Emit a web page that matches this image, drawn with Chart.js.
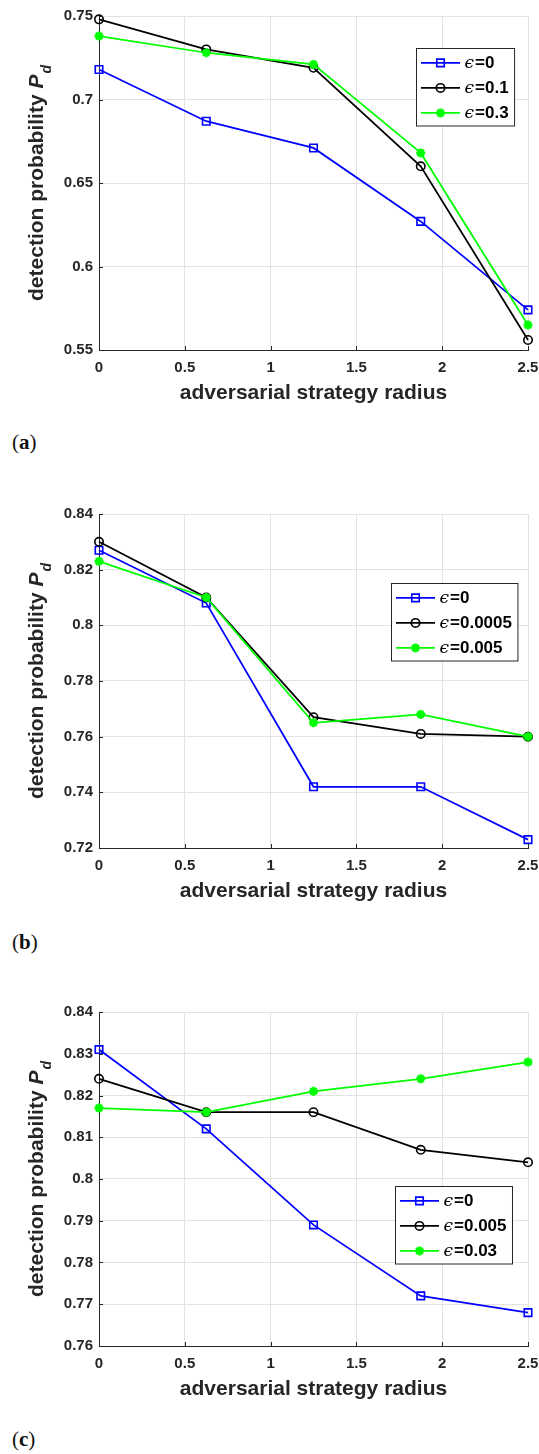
<!DOCTYPE html>
<html>
<head>
<meta charset="utf-8">
<title>Detection probability vs adversarial strategy radius</title>
<script src="https://cdn.jsdelivr.net/npm/chart.js@4.4.1/dist/chart.umd.min.js"></script>
<style>
  html, body { margin: 0; padding: 0; background: #ffffff; }
  body { width: 539px; height: 1454px; position: relative; overflow: hidden; }
  .panel { position: absolute; left: 0; width: 539px; }
  .panel canvas { display: block; }
  .tag { position: absolute; left: 12px; font-family: "Liberation Serif", "DejaVu Serif", serif;
         font-size: 21px; line-height: 1; color: #111111; }
  .tag b { font-weight: bold; }
</style>
</head>
<body>
<div class="panel" style="top:0px;height:410px"><canvas id="panelA" width="539" height="410"></canvas></div>
<div class="tag" style="top:432px">(<b>a</b>)</div>
<div class="panel" style="top:498px;height:410px"><canvas id="panelB" width="539" height="410"></canvas></div>
<div class="tag" style="top:932px">(<b>b</b>)</div>
<div class="panel" style="top:996px;height:410px"><canvas id="panelC" width="539" height="410"></canvas></div>
<div class="tag" style="top:1429px">(<b>c</b>)</div>

<script>
// ---- data ----
const radius = [0, 0.625, 1.25, 1.875, 2.5];
const xTicks = [0, 0.5, 1, 1.5, 2, 2.5];

// (a)
const aEpsilon = ['0', '0.1', '0.3'];
const aPdEps0   = [0.718, 0.687, 0.671, 0.627, 0.574];
const aPdEps01  = [0.748, 0.730, 0.719, 0.660, 0.556];
const aPdEps03  = [0.738, 0.728, 0.721, 0.668, 0.565];
const aYTicks   = [0.55, 0.6, 0.65, 0.7, 0.75];

// (b)
const bEpsilon    = ['0', '0.0005', '0.005'];
const bPdEps0     = [0.827, 0.808, 0.742, 0.742, 0.723];
const bPdEps00005 = [0.830, 0.810, 0.767, 0.761, 0.760];
const bPdEps0005  = [0.823, 0.810, 0.765, 0.768, 0.760];
const bYTicks     = [0.72, 0.74, 0.76, 0.78, 0.8, 0.82, 0.84];

// (c)
const cEpsilon   = ['0', '0.005', '0.03'];
const cPdEps0    = [0.831, 0.812, 0.789, 0.772, 0.768];
const cPdEps0005 = [0.824, 0.816, 0.816, 0.807, 0.804];
const cPdEps003  = [0.817, 0.816, 0.821, 0.824, 0.828];
const cYTicks    = [0.76, 0.77, 0.78, 0.79, 0.8, 0.81, 0.82, 0.83, 0.84];

const xTitle = 'adversarial strategy radius';
const yTitle = 'detection probability ';
const yTitleSymbol = 'P';
const yTitleSub = 'd';

// ---- styling ----
const SANS = '"Liberation Sans", Arial, Helvetica, sans-serif';
const INK = '#262626';
const GRID = '#e2e2e2';

const seriesStyle = [
  { color: '#0000ff', pointStyle: 'rect',   radius: 5.3, markerWidth: 1.6 },
  { color: '#000000', pointStyle: 'circle', radius: 4.2, markerWidth: 1.6 },
  { color: '#00ff00', pointStyle: 'star',   radius: 4.5, markerWidth: 2.6 }
];
const LINE_WIDTH = 1.75;

function fmt(v) { return String(Number(Number(v).toFixed(4))); }

// rotated y-axis title with italic P and subscript d
const yTitlePlugin = {
  id: 'yTitleRich',
  afterDraw(chart) {
    const { ctx, chartArea } = chart;
    const mainFont = 'bold 21px ' + SANS;
    const symFont = 'italic bold 21px ' + SANS;
    const subFont = 'italic bold 14px ' + SANS;
    ctx.save();
    ctx.font = mainFont; const w1 = ctx.measureText(yTitle).width;
    ctx.font = symFont;  const w2 = ctx.measureText(yTitleSymbol).width;
    ctx.font = subFont;  const w3 = ctx.measureText(yTitleSub).width;
    const total = w1 + w2 + w3 + 1;
    const cy = (chartArea.top + chartArea.bottom) / 2;
    ctx.translate(43, cy);
    ctx.rotate(-Math.PI / 2);
    ctx.fillStyle = INK;
    ctx.textBaseline = 'alphabetic';
    ctx.textAlign = 'left';
    let u = -total / 2;
    ctx.font = mainFont; ctx.fillText(yTitle, u, 0); u += w1;
    ctx.font = symFont;  ctx.fillText(yTitleSymbol, u, 0); u += w2 + 1;
    ctx.font = subFont;  ctx.fillText(yTitleSub, u, 8);
    ctx.restore();
  }
};

// short inward tick marks on the left and bottom axes
const innerTicksPlugin = {
  id: 'innerTicks',
  afterDatasetsDraw(chart) {
    const { ctx, chartArea, scales } = chart;
    ctx.save();
    ctx.strokeStyle = INK;
    ctx.lineWidth = 1;
    ctx.beginPath();
    scales.x.ticks.forEach(t => {
      const px = Math.round(scales.x.getPixelForValue(t.value)) + 0.5;
      ctx.moveTo(px, chartArea.bottom);
      ctx.lineTo(px, chartArea.bottom - 4);
    });
    scales.y.ticks.forEach(t => {
      const py = Math.round(scales.y.getPixelForValue(t.value)) + 0.5;
      ctx.moveTo(chartArea.left, py);
      ctx.lineTo(chartArea.left + 4, py);
    });
    ctx.stroke();
    ctx.restore();
  }
};

function drawMarker(ctx, st, x, y) {
  ctx.save();
  ctx.strokeStyle = st.color;
  ctx.fillStyle = 'rgba(0,0,0,0)';
  ctx.lineWidth = st.markerWidth;
  if (Chart.helpers && Chart.helpers.drawPoint) {
    Chart.helpers.drawPoint(ctx, { pointStyle: st.pointStyle, radius: st.radius, rotation: 0, borderWidth: st.markerWidth }, x, y);
  } else {
    ctx.beginPath();
    if (st.pointStyle === 'rect') {
      const s = st.radius * Math.SQRT1_2; ctx.rect(x - s, y - s, 2 * s, 2 * s);
    } else if (st.pointStyle === 'circle') {
      ctx.arc(x, y, st.radius, 0, Math.PI * 2);
    } else {
      for (let k = 0; k < 4; k++) {
        const a = k * Math.PI / 4;
        ctx.moveTo(x - Math.cos(a) * st.radius, y - Math.sin(a) * st.radius);
        ctx.lineTo(x + Math.cos(a) * st.radius, y + Math.sin(a) * st.radius);
      }
    }
    ctx.stroke();
  }
  ctx.restore();
}

// boxed legend inside the plot area: line sample + marker + "ϵ=value"
const epsLegendPlugin = {
  id: 'epsLegend',
  afterDraw(chart, args, opts) {
    const { ctx, chartArea } = chart;
    const epsFont = 'italic 17px "DejaVu Serif", "Liberation Serif", serif';
    const valFont = 'bold 17px ' + SANS;
    const labels = opts.epsilon;
    ctx.save();
    ctx.font = epsFont; const epsW = ctx.measureText('\u03F5').width;
    ctx.font = valFont;
    const valWs = labels.map(v => ctx.measureText('=' + v).width);
    const textW = epsW + 1 + Math.max(...valWs);
    const padL = 4.5, lineLen = 39, gap = 4.5, padR = 6;
    const w = padL + lineLen + gap + textW + padR;
    const h = 77.5;
    const right = chartArea.right - opts.right;
    const left = Math.round(right - w) + 0.5;
    const top = Math.round(chartArea.top + opts.top) + 0.5;
    ctx.fillStyle = '#ffffff';
    ctx.fillRect(left, top, w, h);
    ctx.strokeStyle = INK;
    ctx.lineWidth = 1;
    ctx.strokeRect(left, top, w, h);
    labels.forEach((v, i) => {
      const st = seriesStyle[i];
      const y = top + 14.4 + i * 25;
      ctx.strokeStyle = st.color;
      ctx.lineWidth = LINE_WIDTH;
      ctx.beginPath();
      ctx.moveTo(left + padL, y);
      ctx.lineTo(left + padL + lineLen, y);
      ctx.stroke();
      drawMarker(ctx, st, left + padL + lineLen / 2, y);
      let tx = left + padL + lineLen + gap;
      ctx.fillStyle = '#000000';
      ctx.textBaseline = 'middle';
      ctx.textAlign = 'left';
      ctx.font = epsFont; ctx.fillText('\u03F5', tx, y + 1); tx += epsW + 1;
      ctx.font = valFont; ctx.fillText('=' + v, tx, y);
    });
    ctx.restore();
  }
};

function makePanel(id, series, epsilon, yTicks, legendPos) {
  const datasets = series.map((vals, i) => {
    const st = seriesStyle[i];
    return {
      label: '\u03F5=' + epsilon[i],
      data: radius.map((x, k) => ({ x: x, y: vals[k] })),
      borderColor: st.color,
      backgroundColor: st.color,
      borderWidth: LINE_WIDTH,
      pointStyle: st.pointStyle,
      pointRadius: st.radius,
      pointHoverRadius: st.radius,
      pointBorderColor: st.color,
      pointBackgroundColor: 'rgba(0,0,0,0)',
      pointBorderWidth: st.markerWidth,
      tension: 0,
      fill: false,
      clip: false,
      order: series.length - 1 - i
    };
  });

  return new Chart(document.getElementById(id), {
    type: 'line',
    data: { datasets },
    options: {
      responsive: false,
      animation: false,
      events: [],
      layout: { padding: { top: 16, right: 11, bottom: 0, left: 0 } },
      plugins: {
        legend: { display: false },
        tooltip: { enabled: false },
        epsLegend: { epsilon: epsilon, right: legendPos.right, top: legendPos.top }
      },
      scales: {
        x: {
          type: 'linear',
          min: xTicks[0],
          max: xTicks[xTicks.length - 1],
          afterBuildTicks: s => { s.ticks = xTicks.map(v => ({ value: v })); },
          afterFit: s => { s.height = 60; s.paddingLeft = 0; s.paddingRight = 0; },
          ticks: {
            autoSkip: false, maxRotation: 0, padding: 9, color: INK,
            font: { family: SANS, size: 15, weight: 'bold' },
            callback: v => fmt(v)
          },
          grid: { color: GRID, lineWidth: 1, drawTicks: false },
          border: { display: true, color: INK, width: 1 },
          title: {
            display: true, text: xTitle, color: INK,
            font: { family: SANS, size: 21, weight: 'bold' },
            padding: { top: 0, bottom: 4 }
          }
        },
        y: {
          type: 'linear',
          min: yTicks[0],
          max: yTicks[yTicks.length - 1],
          afterBuildTicks: s => { s.ticks = yTicks.map(v => ({ value: v })); },
          afterFit: s => { s.width = 99; s.paddingTop = 0; s.paddingBottom = 0; },
          ticks: {
            autoSkip: false, padding: 6, color: INK,
            font: { family: SANS, size: 15, weight: 'bold' },
            callback: v => fmt(v)
          },
          grid: { color: GRID, lineWidth: 1, drawTicks: false },
          border: { display: true, color: INK, width: 1 },
          title: { display: false }
        }
      }
    },
    plugins: [yTitlePlugin, innerTicksPlugin, epsLegendPlugin]
  });
}

makePanel('panelA', [aPdEps0, aPdEps01, aPdEps03], aEpsilon, aYTicks, { right: 13.5, top: 32 });
makePanel('panelB', [bPdEps0, bPdEps00005, bPdEps0005], bEpsilon, bYTicks, { right: 11, top: 69.3 });
makePanel('panelC', [cPdEps0, cPdEps0005, cPdEps003], cEpsilon, cYTicks, { right: 16, top: 173.7 });
</script>
</body>
</html>
